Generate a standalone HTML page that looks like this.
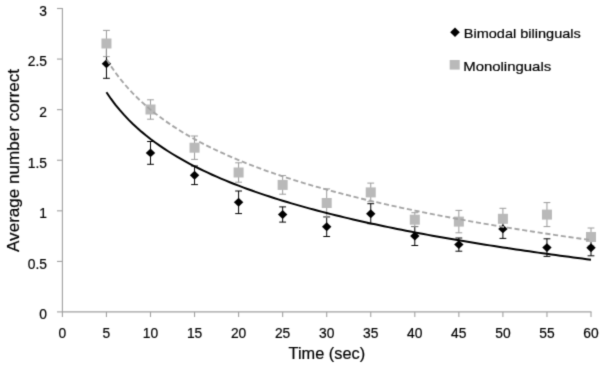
<!DOCTYPE html>
<html><head><meta charset="utf-8"><style>
html,body{margin:0;padding:0;background:#fff;width:604px;height:368px;overflow:hidden;position:relative}
</style></head><body>
<svg width="604" height="368" viewBox="0 0 604 368" style="position:absolute;left:0;top:0">
<defs><filter id="bl" x="0" y="0" width="604" height="368" filterUnits="userSpaceOnUse" color-interpolation-filters="sRGB"><feConvolveMatrix order="3" kernelMatrix="0.01917 0.10012 0.01917 0.10012 0.52283 0.10012 0.01917 0.10012 0.01917" divisor="1" edgeMode="duplicate" preserveAlpha="true"/></filter></defs>
<g filter="url(#bl)"><rect width="604" height="368" fill="#fff"/>
<g stroke="#a0a0a0" stroke-width="1.1" fill="none">
<line x1="62.4" y1="8" x2="62.4" y2="312.0"/>
<line x1="61.9" y1="311.9" x2="591.5" y2="311.9"/>
<line x1="57" y1="311.90" x2="62.4" y2="311.90"/>
<line x1="57" y1="261.42" x2="62.4" y2="261.42"/>
<line x1="57" y1="210.83" x2="62.4" y2="210.83"/>
<line x1="57" y1="160.25" x2="62.4" y2="160.25"/>
<line x1="57" y1="109.66" x2="62.4" y2="109.66"/>
<line x1="57" y1="59.07" x2="62.4" y2="59.07"/>
<line x1="57" y1="8.49" x2="62.4" y2="8.49"/>
<line x1="62.40" y1="312.0" x2="62.40" y2="317"/>
<line x1="106.45" y1="312.0" x2="106.45" y2="317"/>
<line x1="150.50" y1="312.0" x2="150.50" y2="317"/>
<line x1="194.55" y1="312.0" x2="194.55" y2="317"/>
<line x1="238.60" y1="312.0" x2="238.60" y2="317"/>
<line x1="282.65" y1="312.0" x2="282.65" y2="317"/>
<line x1="326.70" y1="312.0" x2="326.70" y2="317"/>
<line x1="370.75" y1="312.0" x2="370.75" y2="317"/>
<line x1="414.80" y1="312.0" x2="414.80" y2="317"/>
<line x1="458.85" y1="312.0" x2="458.85" y2="317"/>
<line x1="502.90" y1="312.0" x2="502.90" y2="317"/>
<line x1="546.95" y1="312.0" x2="546.95" y2="317"/>
<line x1="591.00" y1="312.0" x2="591.00" y2="317"/>
</g>
<path d="M106.45,49.30V78.30M103.05,78.30H109.85" stroke="#000" stroke-width="1.0" fill="none"/>
<path d="M150.50,141.50V164.30M147.10,164.30H153.90M147.10,141.50H153.90" stroke="#000" stroke-width="1.0" fill="none"/>
<path d="M194.55,166.00V184.60M191.15,184.60H197.95M191.15,166.00H197.95" stroke="#000" stroke-width="1.0" fill="none"/>
<path d="M238.60,191.00V213.60M235.20,213.60H242.00M235.20,191.00H242.00" stroke="#000" stroke-width="1.0" fill="none"/>
<path d="M282.65,206.90V222.10M279.25,222.10H286.05M279.25,206.90H286.05" stroke="#000" stroke-width="1.0" fill="none"/>
<path d="M326.70,216.90V236.50M323.30,236.50H330.10M323.30,216.90H330.10" stroke="#000" stroke-width="1.0" fill="none"/>
<path d="M370.75,203.70V223.70M367.35,223.70H374.15M367.35,203.70H374.15" stroke="#000" stroke-width="1.0" fill="none"/>
<path d="M414.80,226.50V245.50M411.40,245.50H418.20M411.40,226.50H418.20" stroke="#000" stroke-width="1.0" fill="none"/>
<path d="M458.85,238.00V251.20M455.45,251.20H462.25M455.45,238.00H462.25" stroke="#000" stroke-width="1.0" fill="none"/>
<path d="M502.90,219.40V238.40M499.50,238.40H506.30M499.50,219.40H506.30" stroke="#000" stroke-width="1.0" fill="none"/>
<path d="M546.95,238.80V256.40M543.55,256.40H550.35M543.55,238.80H550.35" stroke="#000" stroke-width="1.0" fill="none"/>
<path d="M591.00,239.80V255.80M587.60,255.80H594.40M587.60,239.80H594.40" stroke="#000" stroke-width="1.0" fill="none"/>
<path d="M106.45,30.40V56.60M103.05,56.60H109.85M103.05,30.40H109.85" stroke="#9a9a9a" stroke-width="1.0" fill="none"/>
<path d="M150.50,99.80V119.20M147.10,119.20H153.90M147.10,99.80H153.90" stroke="#9a9a9a" stroke-width="1.0" fill="none"/>
<path d="M194.55,136.00V159.40M191.15,159.40H197.95M191.15,136.00H197.95" stroke="#9a9a9a" stroke-width="1.0" fill="none"/>
<path d="M238.60,162.80V182.20M235.20,182.20H242.00M235.20,162.80H242.00" stroke="#9a9a9a" stroke-width="1.0" fill="none"/>
<path d="M282.65,175.60V194.20M279.25,194.20H286.05M279.25,175.60H286.05" stroke="#9a9a9a" stroke-width="1.0" fill="none"/>
<path d="M326.70,188.90V217.10M323.30,217.10H330.10M323.30,188.90H330.10" stroke="#9a9a9a" stroke-width="1.0" fill="none"/>
<path d="M370.75,183.10V201.70M367.35,201.70H374.15M367.35,183.10H374.15" stroke="#9a9a9a" stroke-width="1.0" fill="none"/>
<path d="M414.80,212.70V226.70M411.40,226.70H418.20M411.40,212.70H418.20" stroke="#9a9a9a" stroke-width="1.0" fill="none"/>
<path d="M458.85,210.40V232.80M455.45,232.80H462.25M455.45,210.40H462.25" stroke="#9a9a9a" stroke-width="1.0" fill="none"/>
<path d="M502.90,208.30V229.30M499.50,229.30H506.30M499.50,208.30H506.30" stroke="#9a9a9a" stroke-width="1.0" fill="none"/>
<path d="M546.95,202.60V226.60M543.55,226.60H550.35M543.55,202.60H550.35" stroke="#9a9a9a" stroke-width="1.0" fill="none"/>
<path d="M591.00,228.00V246.00M587.60,246.00H594.40M587.60,228.00H594.40" stroke="#9a9a9a" stroke-width="1.0" fill="none"/>
<path d="M106.45,59.35L111.15,63.80L106.45,68.25L101.75,63.80Z" fill="#000"/>
<path d="M150.50,148.45L155.20,152.90L150.50,157.35L145.80,152.90Z" fill="#000"/>
<path d="M194.55,170.85L199.25,175.30L194.55,179.75L189.85,175.30Z" fill="#000"/>
<path d="M238.60,197.85L243.30,202.30L238.60,206.75L233.90,202.30Z" fill="#000"/>
<path d="M282.65,210.05L287.35,214.50L282.65,218.95L277.95,214.50Z" fill="#000"/>
<path d="M326.70,222.25L331.40,226.70L326.70,231.15L322.00,226.70Z" fill="#000"/>
<path d="M370.75,209.25L375.45,213.70L370.75,218.15L366.05,213.70Z" fill="#000"/>
<path d="M414.80,231.55L419.50,236.00L414.80,240.45L410.10,236.00Z" fill="#000"/>
<path d="M458.85,240.15L463.55,244.60L458.85,249.05L454.15,244.60Z" fill="#000"/>
<path d="M502.90,224.45L507.60,228.90L502.90,233.35L498.20,228.90Z" fill="#000"/>
<path d="M546.95,243.15L551.65,247.60L546.95,252.05L542.25,247.60Z" fill="#000"/>
<path d="M591.00,243.35L595.70,247.80L591.00,252.25L586.30,247.80Z" fill="#000"/>
<rect x="101.45" y="38.50" width="10" height="10" fill="#b9b9b9"/>
<rect x="145.50" y="104.50" width="10" height="10" fill="#b9b9b9"/>
<rect x="189.55" y="142.70" width="10" height="10" fill="#b9b9b9"/>
<rect x="233.60" y="167.50" width="10" height="10" fill="#b9b9b9"/>
<rect x="277.65" y="179.90" width="10" height="10" fill="#b9b9b9"/>
<rect x="321.70" y="198.00" width="10" height="10" fill="#b9b9b9"/>
<rect x="365.75" y="187.40" width="10" height="10" fill="#b9b9b9"/>
<rect x="409.80" y="214.70" width="10" height="10" fill="#b9b9b9"/>
<rect x="453.85" y="216.60" width="10" height="10" fill="#b9b9b9"/>
<rect x="497.90" y="213.80" width="10" height="10" fill="#b9b9b9"/>
<rect x="541.95" y="209.60" width="10" height="10" fill="#b9b9b9"/>
<rect x="586.00" y="232.00" width="10" height="10" fill="#b9b9b9"/>
<path d="M106.45,92.27 L110.86,98.70 L115.26,104.56 L119.66,109.95 L124.07,114.95 L128.47,119.60 L132.88,123.94 L137.28,128.03 L141.69,131.88 L146.09,135.52 L150.50,138.98 L154.91,142.27 L159.31,145.40 L163.72,148.40 L168.12,151.27 L172.53,154.02 L176.93,156.66 L181.34,159.20 L185.74,161.65 L190.15,164.02 L194.55,166.30 L198.96,168.51 L203.36,170.65 L207.76,172.72 L212.17,174.74 L216.58,176.69 L220.98,178.59 L225.39,180.43 L229.79,182.23 L234.20,183.98 L238.60,185.69 L243.01,187.35 L247.41,188.98 L251.81,190.56 L256.22,192.11 L260.62,193.62 L265.03,195.11 L269.44,196.55 L273.84,197.97 L278.25,199.36 L282.65,200.72 L287.06,202.06 L291.46,203.37 L295.87,204.65 L300.27,205.91 L304.68,207.15 L309.08,208.36 L313.49,209.55 L317.89,210.72 L322.30,211.88 L326.70,213.01 L331.11,214.12 L335.51,215.22 L339.92,216.30 L344.32,217.36 L348.72,218.40 L353.13,219.43 L357.54,220.45 L361.94,221.44 L366.34,222.43 L370.75,223.40 L375.15,224.35 L379.56,225.29 L383.96,226.22 L388.37,227.14 L392.77,228.05 L397.18,228.94 L401.59,229.82 L405.99,230.69 L410.39,231.55 L414.80,232.39 L419.20,233.23 L423.61,234.06 L428.01,234.88 L432.42,235.68 L436.82,236.48 L441.23,237.27 L445.63,238.05 L450.04,238.82 L454.44,239.58 L458.85,240.33 L463.25,241.08 L467.66,241.81 L472.06,242.54 L476.47,243.26 L480.88,243.97 L485.28,244.68 L489.69,245.38 L494.09,246.07 L498.50,246.75 L502.90,247.43 L507.31,248.10 L511.71,248.77 L516.12,249.42 L520.52,250.07 L524.92,250.72 L529.33,251.36 L533.74,251.99 L538.14,252.62 L542.55,253.24 L546.95,253.85 L551.36,254.46 L555.76,255.07 L560.17,255.67 L564.57,256.26 L568.98,256.85 L573.38,257.43 L577.78,258.01 L582.19,258.58 L586.60,259.15 L591.00,259.72" fill="none" stroke="#000" stroke-width="2.0"/>
<path d="M106.45,59.12 L110.86,66.06 L115.26,72.40 L119.66,78.23 L124.07,83.62 L128.47,88.65 L132.88,93.35 L137.28,97.77 L141.69,101.93 L146.09,105.87 L150.50,109.60 L154.91,113.16 L159.31,116.54 L163.72,119.78 L168.12,122.88 L172.53,125.86 L176.93,128.71 L181.34,131.46 L185.74,134.11 L190.15,136.67 L194.55,139.14 L198.96,141.52 L203.36,143.84 L207.76,146.08 L212.17,148.25 L216.58,150.36 L220.98,152.42 L225.39,154.41 L229.79,156.35 L234.20,158.25 L238.60,160.09 L243.01,161.89 L247.41,163.64 L251.81,165.36 L256.22,167.03 L260.62,168.67 L265.03,170.27 L269.44,171.84 L273.84,173.37 L278.25,174.87 L282.65,176.34 L287.06,177.78 L291.46,179.20 L295.87,180.59 L300.27,181.95 L304.68,183.28 L309.08,184.60 L313.49,185.89 L317.89,187.15 L322.30,188.40 L326.70,189.62 L331.11,190.83 L335.51,192.01 L339.92,193.18 L344.32,194.32 L348.72,195.45 L353.13,196.56 L357.54,197.66 L361.94,198.74 L366.34,199.80 L370.75,200.85 L375.15,201.88 L379.56,202.90 L383.96,203.91 L388.37,204.90 L392.77,205.88 L397.18,206.84 L401.59,207.79 L405.99,208.73 L410.39,209.66 L414.80,210.58 L419.20,211.48 L423.61,212.37 L428.01,213.26 L432.42,214.13 L436.82,214.99 L441.23,215.84 L445.63,216.69 L450.04,217.52 L454.44,218.34 L458.85,219.16 L463.25,219.96 L467.66,220.76 L472.06,221.54 L476.47,222.32 L480.88,223.09 L485.28,223.86 L489.69,224.61 L494.09,225.36 L498.50,226.10 L502.90,226.83 L507.31,227.55 L511.71,228.27 L516.12,228.98 L520.52,229.69 L524.92,230.38 L529.33,231.07 L533.74,231.76 L538.14,232.43 L542.55,233.11 L546.95,233.77 L551.36,234.43 L555.76,235.08 L560.17,235.73 L564.57,236.37 L568.98,237.01 L573.38,237.64 L577.78,238.27 L582.19,238.88 L586.60,239.50 L591.00,240.11" fill="none" stroke="#a3a3a3" stroke-width="1.85" stroke-dasharray="5.1 2.715" stroke-dashoffset="-0.8"/>
<g font-family='"Liberation Sans", sans-serif' font-size="13.8" fill="#000" stroke="#000" stroke-width="0.2">
<text x="46.9" y="319.3" text-anchor="end">0</text>
<text x="46.9" y="268.7" text-anchor="end">0.5</text>
<text x="46.9" y="218.1" text-anchor="end">1</text>
<text x="46.9" y="167.5" text-anchor="end">1.5</text>
<text x="46.9" y="117.0" text-anchor="end">2</text>
<text x="46.9" y="66.4" text-anchor="end">2.5</text>
<text x="46.9" y="15.8" text-anchor="end">3</text>
<text x="62.4" y="337.5" text-anchor="middle">0</text>
<text x="106.4" y="337.5" text-anchor="middle">5</text>
<text x="150.5" y="337.5" text-anchor="middle">10</text>
<text x="194.6" y="337.5" text-anchor="middle">15</text>
<text x="238.6" y="337.5" text-anchor="middle">20</text>
<text x="282.6" y="337.5" text-anchor="middle">25</text>
<text x="326.7" y="337.5" text-anchor="middle">30</text>
<text x="370.8" y="337.5" text-anchor="middle">35</text>
<text x="414.8" y="337.5" text-anchor="middle">40</text>
<text x="458.8" y="337.5" text-anchor="middle">45</text>
<text x="502.9" y="337.5" text-anchor="middle">50</text>
<text x="547.0" y="337.5" text-anchor="middle">55</text>
<text x="591.0" y="337.5" text-anchor="middle">60</text>
<text x="463.8" y="37.6" font-size="13.4" textLength="117" lengthAdjust="spacingAndGlyphs">Bimodal bilinguals</text>
<text x="463.2" y="70.5" font-size="13.4" textLength="88" lengthAdjust="spacingAndGlyphs">Monolinguals</text>
</g>
<path d="M455,27.6L459.8,32.3L455,37L450.2,32.3Z" fill="#000"/>
<rect x="449.7" y="60" width="10" height="9.6" fill="#b9b9b9"/>
<text x="288.6" y="358.8" textLength="76.5" lengthAdjust="spacingAndGlyphs" font-family='"Liberation Sans", sans-serif' font-size="16.3" fill="#000" stroke="#000" stroke-width="0.2">Time (sec)</text>
<text transform="translate(18.5,252) rotate(-90)" x="0" y="0" textLength="183" lengthAdjust="spacingAndGlyphs" font-family='"Liberation Sans", sans-serif' font-size="16.3" fill="#000" stroke="#000" stroke-width="0.2">Average number correct</text>
</g></svg>
</body></html>
